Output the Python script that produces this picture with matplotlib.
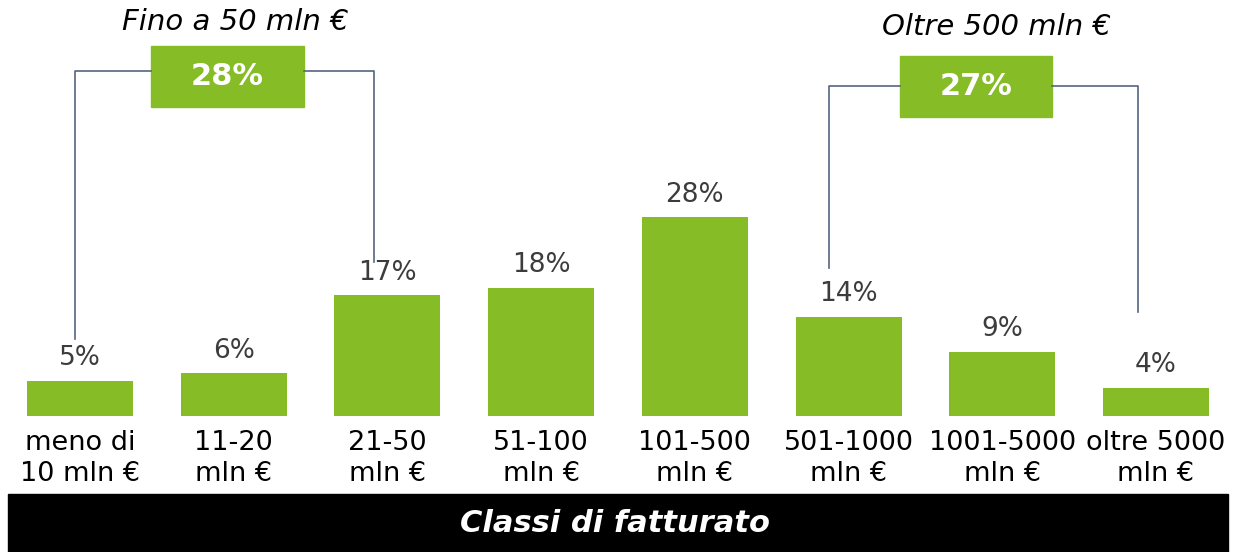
import matplotlib; matplotlib.use("Agg")
import matplotlib.pyplot as plt
from matplotlib.patches import Rectangle

# revenue classes and share of companies (%)
classes = ['meno di\n10 mln €', '11-20\nmln €', '21-50\nmln €', '51-100\nmln €',
           '101-500\nmln €', '501-1000\nmln €', '1001-5000\nmln €', 'oltre 5000\nmln €']
shares = [5, 6, 17, 18, 28, 14, 9, 4]

# grouped totals shown in the brackets
group_titles = ['Fino a 50 mln €', 'Oltre 500 mln €']
group_totals = [28, 27]

GREEN = '#86bc25'
LINE = '#56657f'

fig = plt.figure(figsize=(12.36, 5.52), dpi=100)
ax = fig.add_axes([0, 136 / 552, 1, 416 / 552])
xs = range(len(classes))
ax.bar(xs, shares, width=0.69, color=GREEN)
ax.set_xlim(-0.5205, 7.5205)
ax.set_ylim(0, 58.6)
for s in ax.spines.values():
    s.set_visible(False)
ax.set_yticks([])
ax.set_xticks(list(xs))
ax.set_xticklabels(classes, fontsize=19.5, linespacing=1.25)
ax.tick_params(axis='x', length=0, pad=10)

for x, v in zip(xs, shares):
    ax.annotate(f'{v}%', (x, v), xytext=(0, 7), textcoords='offset points',
                ha='center', va='bottom', fontsize=19, color='#3c3c3c')

# brackets: (left x, right x, left end y, right end y, line y, box centre x, box y range, title y, title dx)
brackets = [
    (-0.03, 1.91, 10.8, 21.7, 48.6, 0.96, (43.5, 52.1), 55.5, 0.05),
    (4.87, 6.88, 20.8, 14.6, 46.5, 5.83, (42.1, 50.7), 54.8, 0.13),
]
box_w = 0.99
for (xl, xr, yl, yr, yh, bx, (b0, b1), ty, dx), title, tot in zip(brackets, group_titles, group_totals):
    ax.plot([xl, xl, bx - box_w / 2], [yl, yh, yh], color=LINE, lw=1.2, clip_on=False)
    ax.plot([bx + box_w / 2, xr, xr], [yh, yh, yr], color=LINE, lw=1.2, clip_on=False)
    ax.add_patch(Rectangle((bx - box_w / 2, b0), box_w, b1 - b0, color=GREEN, clip_on=False))
    ax.text(bx, (b0 + b1) / 2, f'{tot}%', ha='center', va='center', fontsize=22,
            fontweight='bold', color='white')
    ax.text(bx + dx, ty, title, ha='center', va='center', fontsize=21, style='italic')

# axis title band
fig.patches.append(Rectangle((8 / 1236, 0), 1220 / 1236, 58 / 552, color='black',
                             transform=fig.transFigure, figure=fig))
fig.text(615 / 1236, 29 / 552, 'Classi di fatturato', ha='center', va='center',
         fontsize=22, fontweight='bold', style='italic', color='white')

fig.savefig('out.png', dpi=100)
